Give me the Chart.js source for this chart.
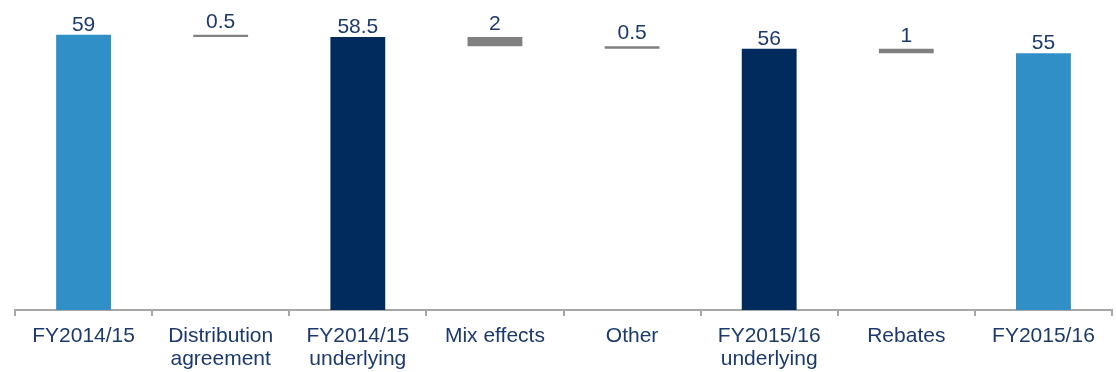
<!DOCTYPE html>
<html>
<head>
<meta charset="utf-8">
<script src="https://cdn.jsdelivr.net/npm/chart.js@4"></script>
<style>
  html, body { margin: 0; padding: 0; background: #ffffff; }
  #wrap { width: 1116px; height: 372px; position: relative; }
</style>
</head>
<body>
<div id="wrap"><canvas id="c" width="1116" height="372"></canvas></div>
<script>
// Bridge from FY2014/15 to FY2015/16
const categories = [
  'FY2014/15',
  ['Distribution', 'agreement'],
  ['FY2014/15', 'underlying'],
  'Mix effects',
  'Other',
  ['FY2015/16', 'underlying'],
  'Rebates',
  'FY2015/16'
];
// 'total' bars stand on zero; 'step' bars hang from the running level
const barKinds = ['total', 'step', 'total', 'step', 'step', 'total', 'step', 'total'];
const values = [59, 0.5, 58.5, 2, 0.5, 56, 1, 55];
const valueLabels = ['59', '0.5', '58.5', '2', '0.5', '56', '1', '55'];
const barColors = ['#318FC7', '#808080', '#002B5C', '#808080', '#808080', '#002B5C', '#808080', '#318FC7'];

// Floating ranges: each step lowers the running level by its value
const ranges = [];
let level = 0;
values.forEach((v, i) => {
  if (barKinds[i] === 'total') {
    ranges.push([0, v]);
    level = v;
  } else {
    ranges.push([level - v, level]);
    level = level - v;
  }
});

const textColor = '#1B3A6B';
const fontFamily = 'Arial, "Liberation Sans", sans-serif';

const valueLabelPlugin = {
  id: 'valueLabels',
  afterDatasetsDraw(chart) {
    const ctx = chart.ctx;
    const meta = chart.getDatasetMeta(0);
    ctx.save();
    ctx.font = '21px ' + fontFamily;
    ctx.fillStyle = textColor;
    ctx.textAlign = 'center';
    ctx.textBaseline = 'alphabetic';
    meta.data.forEach((bar, i) => {
      const gap = barKinds[i] === 'step' ? 7 : 4;
      ctx.fillText(valueLabels[i], bar.x, bar.y - gap);
    });
    ctx.restore();
  }
};

new Chart(document.getElementById('c'), {
  type: 'bar',
  data: {
    labels: categories,
    datasets: [{
      data: ranges,
      backgroundColor: barColors,
      borderWidth: 0,
      borderSkipped: false,
      barPercentage: 0.4,
      categoryPercentage: 1.0
    }]
  },
  options: {
    responsive: false,
    animation: false,
    devicePixelRatio: 1,
    layout: { padding: { left: 15, right: 4, top: 2, bottom: 0 } },
    plugins: {
      legend: { display: false },
      tooltip: { enabled: false }
    },
    scales: {
      x: {
        offset: true,
        afterFit(scale) { scale.height = 62; },
        grid: {
          offset: true,
          drawOnChartArea: false,
          drawTicks: true,
          tickLength: 6,
          color: '#A6A6A6',
          lineWidth: 2
        },
        border: { display: true, color: '#A6A6A6', width: 2 },
        ticks: {
          color: textColor,
          font: { family: fontFamily, size: 21, lineHeight: 1.1 },
          padding: 9,
          maxRotation: 0,
          autoSkip: false
        }
      },
      y: {
        display: false,
        min: 0,
        max: 66
      }
    }
  },
  plugins: [valueLabelPlugin]
});
</script>
</body>
</html>
